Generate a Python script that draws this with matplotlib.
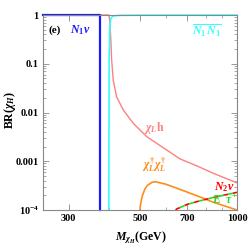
import matplotlib
matplotlib.use('Agg')
import matplotlib.pyplot as plt
from matplotlib.ticker import FixedLocator, NullFormatter

plt.rcParams['font.family'] = 'Liberation Serif'
plt.rcParams['font.weight'] = 'bold'
plt.rcParams['mathtext.fontset'] = 'custom'
plt.rcParams['mathtext.rm'] = 'Liberation Serif:bold'
plt.rcParams['mathtext.it'] = 'Liberation Serif:italic:bold'
plt.rcParams['mathtext.bf'] = 'Liberation Serif:bold'

# mass (GeV) vs branching ratio
n1nu_m = [250, 375, 375]
n1nu_br = [1.0, 1.0, 1e-4]

n1n1_m = [400, 401, 403, 406, 412, 430, 500, 700, 1000]
n1n1_br = [1e-4, 0.1, 0.6, 0.85, 0.95, 0.985, 0.995, 0.998, 0.999]

chih_m = [375, 400, 402, 404, 406, 408.3, 413, 423, 443.6, 476.5, 524.5, 605, 665, 755, 842, 1000]
chih_br = [1.0, 1.0, 0.85, 0.55, 0.307, 0.119, 0.046, 0.021, 0.0113, 0.006, 0.0032, 0.0017,
           0.00112, 7.9e-4, 5.7e-4, 3.6e-4]

chichi_m = [500, 501, 505, 509, 518, 527, 545, 558, 600, 665, 760, 842, 1000]
chichi_br = [1e-4, 1.2e-4, 1.6e-4, 2.0e-4, 2.7e-4, 3.2e-4, 3.7e-4, 3.8e-4, 3.4e-4, 2.65e-4, 1.9e-4, 1.45e-4, 1.0e-4]

n2nu_m = [645, 650, 665, 700, 755, 842, 1000]
n2nu_br = [1e-4, 1.05e-4, 1.12e-4, 1.3e-4, 1.5e-4, 1.8e-4, 2.3e-4]
etau_m = n2nu_m
etau_br = n2nu_br

x_ticks = [300, 500, 700, 1000]
x_minor = [400, 600, 800, 900]
y_ticks = [1e-4, 1e-3, 1e-2, 0.1, 1]
y_labels = ['$10^{-4}$', '0.001', '0.01', '0.1', '1']

fig = plt.figure(figsize=(2.49, 2.45), dpi=100)
ax = fig.add_axes([43/249, 1-210/245, 194/249, 195/245])
ax.set_xscale('log')
ax.set_yscale('log')
ax.set_xlim(250, 1000)
ax.set_ylim(1e-4, 1)

ax.plot(chih_m, chih_br, color='#ff8080', lw=1.0, clip_on=False)
ax.plot(n1n1_m, n1n1_br, color='#33ffff', lw=1.2, clip_on=False)
ax.plot(n1nu_m, n1nu_br, color='#1a1aff', lw=1.6, clip_on=False)
ax.plot(chichi_m, chichi_br, color='#ff8c1a', lw=1.2, clip_on=False)
ax.plot(n2nu_m, n2nu_br, color='#ff0000', lw=1.2, ls=(0, (3, 3)), clip_on=False)
ax.plot(etau_m, etau_br, color='#22dd22', lw=1.2, ls=(3, (3, 3)), clip_on=False)

ax.xaxis.set_major_locator(FixedLocator(x_ticks))
ax.xaxis.set_minor_locator(FixedLocator(x_minor))
ax.xaxis.set_minor_formatter(NullFormatter())
ax.set_xticklabels([str(v) for v in x_ticks])
ax.yaxis.set_major_locator(FixedLocator(y_ticks))
ax.set_yticklabels(y_labels)

ax.tick_params(which='both', direction='in', top=True, right=True,
               colors='#888888', labelcolor='black', labelsize=7.5, pad=3)
ax.tick_params(which='major', length=4, width=0.6)
ax.tick_params(which='minor', length=2, width=0.5)
for s in ax.spines.values():
    s.set_color('#888888')
    s.set_linewidth(0.8)

ax.text(271, 0.49, '(e)', fontsize=8, ha='center', va='center')
ax.text(327, 0.5, r'$N_1\nu$', color='#1a1aff', fontsize=8.5, ha='center', va='center')
ax.text(806, 0.47, r'$\overline{N_1}\,\overline{N_1}$', color='#33ffff', fontsize=8.5, ha='center', va='center')
ax.text(555, 0.0047, r'$\chi_L\mathrm{h}$', color='#ff8080', fontsize=8.5, ha='center', va='center')
ax.text(555, 8.5e-4, r'$\chi_L^{\dagger}\chi_L^{\dagger}$', color='#ff8c1a', fontsize=8.5, ha='center', va='center')
ax.text(912, 3.0e-4, r'$N_2\nu$', color='#ff0000', fontsize=8.5, ha='center', va='center')
ax.text(919, 1.55e-4, r'$E^{-}\tau^{+}$', color='#22dd22', fontsize=8.5, ha='center', va='center')

fig.text(141/249, 1-238/245, r'$M_{\chi_H}\mathrm{(GeV)}$', fontsize=8.5, ha='center', va='center')
fig.text(10/249, 1-110/245, r'$\mathrm{BR(}\chi_H\mathrm{)}$', fontsize=8.5, ha='center', va='center', rotation=90)

fig.savefig('out.png', dpi=100)
